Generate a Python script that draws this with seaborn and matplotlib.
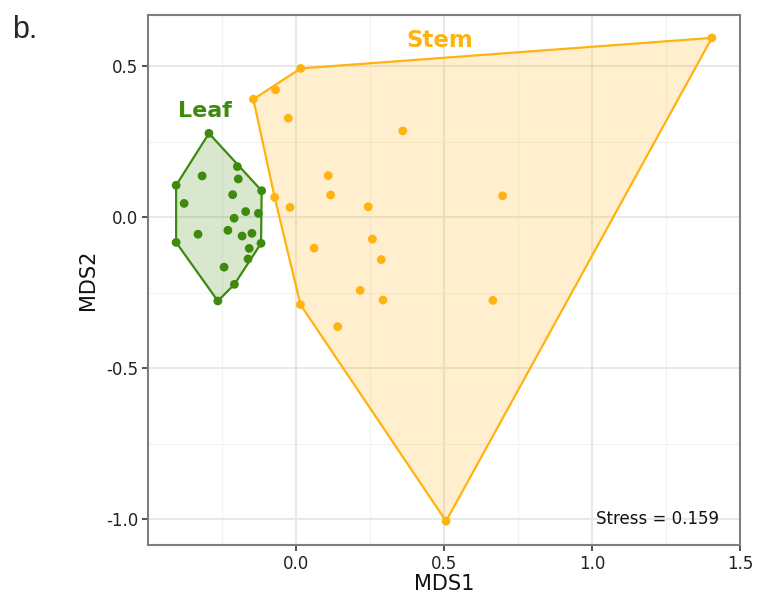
import numpy as np
import pandas as pd
import matplotlib
matplotlib.use("Agg")
import matplotlib.pyplot as plt
import seaborn as sns

leaf_x = [-0.294, -0.198, -0.317, -0.195, -0.405, -0.116, -0.214, -0.378, -0.209, -0.170, -0.127,
          -0.230, -0.331, -0.182, -0.149, -0.405, -0.118, -0.158, -0.162, -0.243, -0.208, -0.264]
leaf_y = [0.277, 0.167, 0.136, 0.126, 0.105, 0.087, 0.074, 0.045, -0.004, 0.018, 0.012,
          -0.044, -0.057, -0.063, -0.054, -0.084, -0.087, -0.104, -0.139, -0.166, -0.223, -0.278]
stem_x = [1.405, 0.016, -0.144, -0.069, -0.026, 0.361, 0.109, 0.117, -0.072, -0.020, 0.244,
          0.698, 0.258, 0.061, 0.288, 0.217, 0.294, 0.665, 0.015, 0.141, 0.507]
stem_y = [0.593, 0.492, 0.390, 0.421, 0.327, 0.285, 0.137, 0.073, 0.065, 0.032, 0.034,
          0.070, -0.073, -0.103, -0.141, -0.243, -0.275, -0.276, -0.290, -0.363, -1.007]
groups = ["Leaf", "Stem"]
colors = {"Leaf": "#3d8a0c", "Stem": "#ffb310"}
x_ticks = [0.0, 0.5, 1.0, 1.5]
y_ticks = [-1.0, -0.5, 0.0, 0.5]
stress_label = "Stress = 0.159"

df = pd.DataFrame({
    "MDS1": leaf_x + stem_x,
    "MDS2": leaf_y + stem_y,
    "Tissue": ["Leaf"] * len(leaf_x) + ["Stem"] * len(stem_x),
})

def hull(pts):
    pts = sorted(set(pts))
    def cross(o, a, b):
        return (a[0]-o[0])*(b[1]-o[1]) - (a[1]-o[1])*(b[0]-o[0])
    lower, upper = [], []
    for p in pts:
        while len(lower) >= 2 and cross(lower[-2], lower[-1], p) <= 0:
            lower.pop()
        lower.append(p)
    for p in reversed(pts):
        while len(upper) >= 2 and cross(upper[-2], upper[-1], p) <= 0:
            upper.pop()
        upper.append(p)
    return lower[:-1] + upper[:-1]

sns.set_theme(style="white")
plt.rcParams["font.family"] = ["DejaVu Sans"]

fig = plt.figure(figsize=(7.57, 5.98), dpi=100)
ax = fig.add_axes([0.1955, 0.0886, 0.782, 0.8864])

# grid
ax.set_xlim(-0.50, 1.50)
ax.set_ylim(-1.086, 0.669)
for v in np.arange(-0.25, 1.6, 0.5):
    ax.axvline(v, color="#f2f2f2", lw=0.8, zorder=0)
for v in np.arange(-0.75, 0.7, 0.5):
    ax.axhline(v, color="#f2f2f2", lw=0.8, zorder=0)
for v in x_ticks:
    ax.axvline(v, color="#e6e6e6", lw=1.3, zorder=0)
for v in y_ticks:
    ax.axhline(v, color="#e6e6e6", lw=1.3, zorder=0)

for g in groups:
    sub = df[df.Tissue == g]
    h = hull(list(zip(sub.MDS1, sub.MDS2)))
    hx = [p[0] for p in h] + [h[0][0]]
    hy = [p[1] for p in h] + [h[0][1]]
    ax.fill(hx, hy, color=colors[g], alpha=0.2, lw=0, zorder=1)
    ax.plot(hx, hy, color=colors[g], lw=1.6, zorder=2)

sns.scatterplot(data=df, x="MDS1", y="MDS2", hue="Tissue", palette=colors,
                s=40, edgecolor="none", legend=False, ax=ax, zorder=3)

ax.text(-0.307, 0.351, "Leaf", color=colors["Leaf"], fontsize=16, fontweight="bold",
        ha="center", va="center")
ax.text(0.486, 0.586, "Stem", color=colors["Stem"], fontsize=16.5, fontweight="bold",
        ha="center", va="center")
ax.text(1.43, -1.0, stress_label, fontsize=12, color="#111111", ha="right", va="center")

ax.set_xticks(x_ticks)
ax.set_yticks(y_ticks)
ax.set_xticklabels([f"{v:.1f}" for v in x_ticks], fontsize=12, color="#222222")
ax.set_yticklabels([f"{v:.1f}" for v in y_ticks], fontsize=12, color="#222222")
ax.tick_params(axis="both", which="major", length=4, width=1.2, color="#333333",
               bottom=True, left=True, pad=3)
ax.set_xlabel("MDS1", fontsize=15, color="#111111", labelpad=1)
ax.set_ylabel("MDS2", fontsize=15, color="#111111", labelpad=6)
for sp in ax.spines.values():
    sp.set_color("#7f7f7f")
    sp.set_linewidth(1.5)

fig.text(0.016, 0.95, "b.", fontsize=22, family=["Liberation Sans"], ha="left", va="center")

fig.savefig("out.png", dpi=100)
